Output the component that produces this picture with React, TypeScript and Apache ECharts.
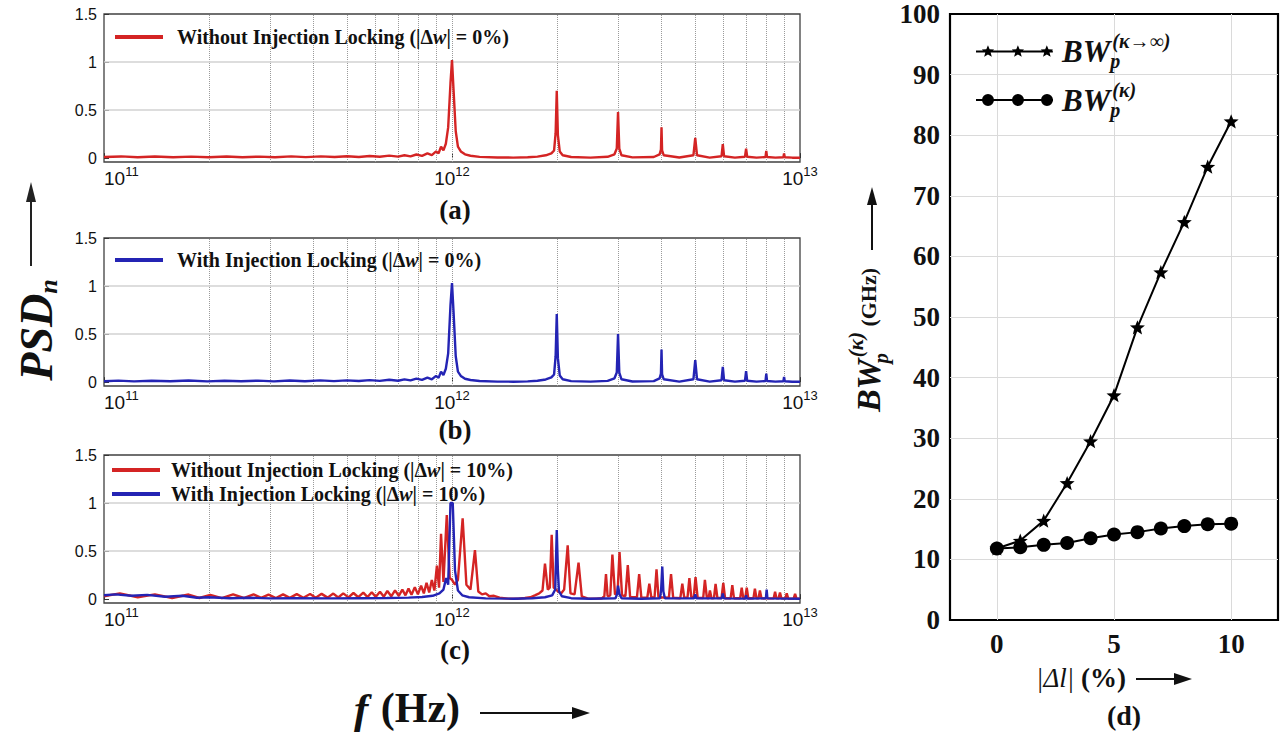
import React, { useEffect, useRef } from 'react';
import * as echarts from 'echarts';

// ---------- data ----------
// frequencies in THz (1 THz = 10^12 Hz), PSD normalised
const freqLabelExpOffset = 12; // axis in THz -> label exponent in Hz
const minorGridTHz = [0.2, 0.3, 0.4, 0.5, 0.6, 0.7, 0.8, 0.9, 1, 2, 3, 4, 5, 6, 7, 8, 9];
const psdTicks = [0, 0.5, 1, 1.5];
const psdGridY = [0.5, 1];

const psdNoLock0: [number, number][] = [
  [0.1, 0.012], [0.112, 0.018], [0.125, 0.009], [0.14, 0.017], [0.158, 0.01], [0.178, 0.016], [0.2, 0.009],
  [0.225, 0.017], [0.25, 0.01], [0.28, 0.016], [0.31, 0.009], [0.345, 0.018], [0.38, 0.011], [0.42, 0.019],
  [0.46, 0.012], [0.5, 0.02], [0.54, 0.012], [0.58, 0.022], [0.62, 0.014], [0.66, 0.026], [0.7, 0.016],
  [0.73, 0.03], [0.76, 0.019], [0.79, 0.038], [0.82, 0.024], [0.85, 0.05], [0.875, 0.032], [0.9, 0.07],
  [0.915, 0.05], [0.93, 0.12], [0.945, 0.08], [0.96, 0.15], [0.975, 0.32], [0.99, 0.78], [1.0, 1.02],
  [1.01, 0.72], [1.025, 0.28], [1.04, 0.12], [1.06, 0.07], [1.09, 0.04], [1.13, 0.025], [1.2, 0.013],
  [1.35, 0.007], [1.5, 0.006], [1.65, 0.009], [1.76, 0.016], [1.86, 0.03], [1.93, 0.05], [1.965, 0.08],
  [1.985, 0.26], [2.0, 0.7], [2.015, 0.24], [2.04, 0.07], [2.08, 0.03], [2.2, 0.012], [2.5, 0.006],
  [2.8, 0.014], [2.93, 0.04], [2.975, 0.1], [3.0, 0.48], [3.025, 0.1], [3.07, 0.03], [3.3, 0.008],
  [3.8, 0.012], [3.95, 0.04], [3.985, 0.09], [4.0, 0.32], [4.015, 0.08], [4.06, 0.03], [4.5, 0.007],
  [4.94, 0.03], [5.0, 0.21], [5.06, 0.03], [5.5, 0.006], [5.95, 0.02], [6.0, 0.145], [6.05, 0.02],
  [6.5, 0.006], [6.95, 0.015], [7.0, 0.1], [7.05, 0.015], [7.5, 0.005], [7.96, 0.012], [8.0, 0.075],
  [8.04, 0.012], [8.5, 0.005], [8.96, 0.01], [9.0, 0.05], [9.04, 0.01], [9.5, 0.005], [10, 0.005],
];

const psdLock0: [number, number][] = [
  [0.1, 0.01], [0.11, 0.016], [0.122, 0.008], [0.137, 0.015], [0.155, 0.009], [0.175, 0.017], [0.198, 0.008],
  [0.222, 0.015], [0.248, 0.009], [0.277, 0.016], [0.308, 0.008], [0.342, 0.017], [0.378, 0.01], [0.418, 0.018],
  [0.458, 0.011], [0.498, 0.019], [0.54, 0.012], [0.58, 0.021], [0.62, 0.013], [0.66, 0.025], [0.7, 0.015],
  [0.73, 0.029], [0.76, 0.018], [0.79, 0.036], [0.82, 0.023], [0.85, 0.048], [0.875, 0.03], [0.9, 0.065],
  [0.915, 0.045], [0.93, 0.11], [0.945, 0.075], [0.96, 0.14], [0.975, 0.3], [0.99, 0.8], [1.0, 1.03],
  [1.01, 0.74], [1.025, 0.27], [1.04, 0.11], [1.06, 0.065], [1.09, 0.035], [1.13, 0.022], [1.2, 0.012],
  [1.35, 0.006], [1.5, 0.005], [1.65, 0.008], [1.76, 0.015], [1.86, 0.028], [1.93, 0.05], [1.965, 0.08],
  [1.985, 0.27], [2.0, 0.71], [2.015, 0.25], [2.04, 0.07], [2.08, 0.03], [2.2, 0.011], [2.5, 0.005],
  [2.8, 0.013], [2.93, 0.04], [2.975, 0.1], [3.0, 0.5], [3.025, 0.1], [3.07, 0.03], [3.3, 0.007],
  [3.8, 0.011], [3.95, 0.04], [3.985, 0.09], [4.0, 0.34], [4.015, 0.08], [4.06, 0.03], [4.5, 0.006],
  [4.94, 0.03], [5.0, 0.23], [5.06, 0.03], [5.5, 0.005], [5.95, 0.02], [6.0, 0.16], [6.05, 0.02],
  [6.5, 0.005], [6.95, 0.015], [7.0, 0.115], [7.05, 0.015], [7.5, 0.005], [7.96, 0.012], [8.0, 0.09],
  [8.04, 0.012], [8.5, 0.005], [8.96, 0.01], [9.0, 0.055], [9.04, 0.01], [9.5, 0.004], [10, 0.004],
];

const psdNoLock10: [number, number][] = [
  [0.1, 0.03], [0.111, 0.06], [0.125, 0.02], [0.14, 0.05], [0.157, 0.012], [0.175, 0.048], [0.188, 0.012],
  [0.202, 0.045], [0.218, 0.01], [0.235, 0.05], [0.252, 0.012], [0.269, 0.05], [0.283, 0.013], [0.297, 0.048],
  [0.312, 0.012], [0.327, 0.05], [0.342, 0.013], [0.358, 0.052], [0.374, 0.014], [0.391, 0.053], [0.406, 0.015],
  [0.422, 0.055], [0.439, 0.016], [0.456, 0.058], [0.471, 0.017], [0.487, 0.06], [0.504, 0.018], [0.521, 0.064],
  [0.538, 0.02], [0.556, 0.068], [0.572, 0.022], [0.588, 0.072], [0.604, 0.024], [0.621, 0.078], [0.637, 0.026],
  [0.652, 0.085], [0.669, 0.03], [0.686, 0.092], [0.703, 0.035], [0.72, 0.1], [0.735, 0.04], [0.75, 0.11],
  [0.765, 0.045], [0.782, 0.125], [0.798, 0.05], [0.815, 0.14], [0.83, 0.06], [0.845, 0.17], [0.86, 0.07],
  [0.875, 0.2], [0.89, 0.09], [0.905, 0.35], [0.918, 0.12], [0.93, 0.68], [0.945, 0.18], [0.966, 0.875],
  [0.985, 0.22], [1.0, 0.2], [1.02, 0.15], [1.04, 0.2], [1.073, 0.84], [1.1, 0.15], [1.13, 0.1],
  [1.164, 0.51], [1.19, 0.08], [1.22, 0.05], [1.25, 0.06], [1.28, 0.03], [1.32, 0.035], [1.37, 0.015],
  [1.45, 0.006], [1.55, 0.005], [1.62, 0.012], [1.68, 0.02], [1.73, 0.04], [1.78, 0.06], [1.82, 0.09],
  [1.85, 0.37], [1.885, 0.1], [1.91, 0.12], [1.934, 0.67], [1.96, 0.12], [1.99, 0.1], [2.02, 0.08],
  [2.06, 0.06], [2.1, 0.1], [2.15, 0.56], [2.19, 0.06], [2.25, 0.05], [2.31, 0.38], [2.36, 0.03],
  [2.45, 0.008], [2.6, 0.005], [2.7, 0.01], [2.74, 0.03], [2.77, 0.26], [2.8, 0.03], [2.85, 0.04],
  [2.89, 0.465], [2.94, 0.05], [2.99, 0.06], [3.03, 0.49], [3.08, 0.04], [3.15, 0.03], [3.2, 0.354],
  [3.25, 0.02], [3.4, 0.02], [3.45, 0.26], [3.5, 0.015], [3.64, 0.015], [3.69, 0.16], [3.74, 0.015],
  [3.82, 0.02], [3.87, 0.31], [3.92, 0.02], [4.2, 0.015], [4.26, 0.26], [4.32, 0.015], [4.53, 0.01],
  [4.59, 0.16], [4.65, 0.015], [4.75, 0.015], [4.81, 0.22], [4.87, 0.02], [4.95, 0.02], [5.01, 0.23],
  [5.08, 0.015], [5.27, 0.012], [5.33, 0.2], [5.4, 0.012], [5.46, 0.01], [5.51, 0.09], [5.57, 0.01],
  [5.66, 0.012], [5.72, 0.16], [5.79, 0.012], [5.95, 0.012], [6.02, 0.17], [6.09, 0.01], [6.32, 0.01],
  [6.39, 0.145], [6.46, 0.01], [6.73, 0.01], [6.8, 0.12], [6.87, 0.01], [6.96, 0.01], [7.03, 0.12],
  [7.1, 0.01], [7.35, 0.01], [7.42, 0.11], [7.5, 0.008], [7.6, 0.008], [7.67, 0.09], [7.75, 0.008],
  [8.4, 0.008], [8.48, 0.076], [8.56, 0.008], [8.68, 0.008], [8.76, 0.07], [8.84, 0.008], [9.08, 0.007],
  [9.16, 0.06], [9.25, 0.007], [9.59, 0.006], [9.68, 0.055], [9.77, 0.006], [10, 0.006],
];

const psdLock10: [number, number][] = [
  [0.1, 0.04], [0.108, 0.05], [0.12, 0.035], [0.133, 0.045], [0.15, 0.025], [0.168, 0.035], [0.185, 0.015],
  [0.2, 0.02], [0.23, 0.01], [0.26, 0.015], [0.3, 0.008], [0.35, 0.01], [0.45, 0.008], [0.55, 0.01],
  [0.65, 0.012], [0.75, 0.016], [0.82, 0.022], [0.88, 0.035], [0.92, 0.06], [0.945, 0.1], [0.962, 0.22],
  [0.975, 0.15], [0.99, 1.0], [1.005, 1.0], [1.02, 0.3], [1.04, 0.09], [1.07, 0.04], [1.12, 0.02],
  [1.25, 0.008], [1.5, 0.005], [1.7, 0.01], [1.85, 0.02], [1.94, 0.04], [1.98, 0.1], [2.0, 0.72],
  [2.015, 0.3], [2.03, 0.08], [2.07, 0.03], [2.2, 0.01], [2.5, 0.005], [2.95, 0.01], [2.98, 0.05],
  [3.0, 0.14], [3.03, 0.05], [3.07, 0.01], [3.5, 0.005], [3.96, 0.01], [3.99, 0.1], [4.02, 0.34],
  [4.05, 0.08], [4.09, 0.01], [4.96, 0.008], [5.0, 0.05], [5.04, 0.008], [5.96, 0.008], [6.0, 0.06],
  [6.04, 0.008], [6.97, 0.006], [7.0, 0.04], [7.03, 0.006], [7.98, 0.008], [8.02, 0.1], [8.06, 0.008],
  [10, 0.005],
];

// panel (d)
const dlPercent = [0, 1, 2, 3, 4, 5, 6, 7, 8, 9, 10];
const bwInf = [11.8, 13.1, 16.4, 22.6, 29.5, 37.1, 48.3, 57.4, 65.7, 74.8, 82.3];
const bwK = [11.8, 12.0, 12.4, 12.7, 13.5, 14.1, 14.5, 15.1, 15.5, 15.8, 15.9];
const dTicksX = [0, 5, 10];
const dGridY = [10, 20, 30, 40, 50, 60, 70, 80, 90];

// ---------- helpers ----------
const SERIF = '"Liberation Serif", "Times New Roman", serif';
const SANS = '"Liberation Sans", Arial, sans-serif';
const RED = '#d42424';
const BLUE = '#2424b4';

function starPath(cx: number, cy: number, R: number, r: number) {
  const pts: string[] = [];
  for (let i = 0; i < 10; i++) {
    const a = -Math.PI / 2 + (i * Math.PI) / 5;
    const rad = i % 2 === 0 ? R : r;
    pts.push((cx + rad * Math.cos(a)).toFixed(2) + ',' + (cy + rad * Math.sin(a)).toFixed(2));
  }
  return 'M' + pts.join(' L') + ' Z';
}
function circlePath(cx: number, cy: number, r: number) {
  return `M${cx - r},${cy} A${r},${r} 0 1,1 ${cx + r},${cy} A${r},${r} 0 1,1 ${cx - r},${cy} Z`;
}
const LEG_X = [12, 42, 71];
const starLegendIcon = 'path://M0,7 L77,7 L77,9 L0,9 Z ' + LEG_X.map((x) => starPath(x, 8, 6.5, 2.8)).join(' ');
const circleLegendIcon = 'path://M0,7 L77,7 L77,9 L0,9 Z ' + LEG_X.map((x) => circlePath(x, 8, 6)).join(' ');

const NAME_A = 'Without Injection Locking (|Δw| = 0%)';
const NAME_B = 'With Injection Locking (|Δw| = 0%)';
const NAME_CR = 'Without Injection Locking (|Δw| = 10%)';
const NAME_CB = 'With Injection Locking (|Δw| = 10%)';
const NAME_DI = 'BWp(κ→∞)';
const NAME_DK = 'BWp(κ)';

const legendRichPanel = {
  b: { fontFamily: SERIF, fontWeight: 'bold', fontSize: 20, color: '#111', lineHeight: 22 },
  i: { fontFamily: SERIF, fontWeight: 'bold', fontStyle: 'italic', fontSize: 20, color: '#111', lineHeight: 22 },
};
function panelLegendText(name: string) {
  const idx = name.indexOf('Δw') + 1;
  return `{b|${name.slice(0, idx)}}{i|w}{b|${name.slice(idx + 1)}}`;
}

const gridRects = [
  { left: 104, top: 14, width: 696, height: 148 },
  { left: 104, top: 238, width: 696, height: 148 },
  { left: 104, top: 455, width: 696, height: 148 },
];

function logX(gi: number) {
  return {
    type: 'log', logBase: 10, gridIndex: gi, min: 0.1, max: 10,
    axisLine: { show: false }, splitLine: { show: false },
    axisTick: { show: true, inside: true, length: 5, lineStyle: { color: '#333', width: 1 } },
    axisLabel: {
      margin: 3, alignMinLabel: 'left', color: '#111',
      formatter: (v: number) => `{b|10}{s|${Math.round(Math.log10(v)) + freqLabelExpOffset}}`,
      rich: {
        b: { fontFamily: SANS, fontSize: 19, lineHeight: 23, verticalAlign: 'bottom', color: '#111' },
        s: { fontFamily: SANS, fontSize: 13, lineHeight: 13, verticalAlign: 'top', color: '#111' },
      },
    },
  };
}
function psdY(gi: number) {
  return {
    type: 'value', gridIndex: gi, min: -0.04, max: 1.5,
    axisLine: { show: false }, splitLine: { show: false },
    axisTick: { show: true, inside: true, length: 5, customValues: psdTicks, lineStyle: { color: '#333' } },
    axisLabel: {
      customValues: psdTicks, margin: 7, fontFamily: SANS, fontSize: 16, color: '#111',
      formatter: (v: number) => String(v),
    },
  };
}
function psdGridLines() {
  return {
    silent: true, symbol: ['none', 'none'], label: { show: false }, animation: false, z: 1,
    data: [
      ...minorGridTHz.map((v) => ({ xAxis: v, lineStyle: { type: 'dotted', color: '#9a9a9a', width: 1 } })),
      ...psdGridY.map((v) => ({ yAxis: v, lineStyle: { type: 'solid', color: '#d2d2d2', width: 1.5 } })),
    ],
  };
}
function psdSeries(name: string, gi: number, data: [number, number][], color: string, withGrid: boolean) {
  const s: any = {
    name, type: 'line', xAxisIndex: gi, yAxisIndex: gi, data, showSymbol: false, symbol: 'none',
    color, lineStyle: { color, width: 2.4 }, z: 10, silent: true,
  };
  if (withGrid) s.markLine = psdGridLines();
  return s;
}

export default function App() {
  const ref = useRef<HTMLDivElement>(null);
  useEffect(() => {
    if (!ref.current) return;
    const chart = echarts.init(ref.current, null, { renderer: 'svg' });
    const starSymbol = 'path://' + starPath(7, 7, 7, 3);
    const option: any = {
      animation: false,
      backgroundColor: '#fff',
      grid: [
        ...gridRects.map((g) => ({ ...g, show: true, borderColor: '#404040', borderWidth: 1.3, backgroundColor: 'transparent' })),
        { left: 950, top: 14, width: 328, height: 606, show: true, borderColor: '#000', borderWidth: 2.2, backgroundColor: 'transparent' },
      ],
      xAxis: [
        logX(0), logX(1), logX(2),
        {
          type: 'value', gridIndex: 3, min: -2, max: 12,
          axisLine: { show: false }, axisTick: { show: false }, splitLine: { show: false },
          axisLabel: { customValues: dTicksX, fontFamily: SERIF, fontWeight: 'bold', fontSize: 27, color: '#111', margin: 10 },
        },
      ],
      yAxis: [
        psdY(0), psdY(1), psdY(2),
        {
          type: 'value', gridIndex: 3, min: 0, max: 100, interval: 10,
          axisLine: { show: false }, axisTick: { show: false }, splitLine: { show: false },
          axisLabel: { fontFamily: SERIF, fontWeight: 'bold', fontSize: 27, color: '#111', margin: 10 },
        },
      ],
      legend: [
        {
          data: [NAME_A], left: 110, top: 22, orient: 'vertical', icon: 'rect', itemWidth: 48, itemHeight: 4,
          selectedMode: false, itemStyle: { borderWidth: 0 }, formatter: panelLegendText,
          textStyle: { padding: [0, 0, 0, 9], rich: legendRichPanel },
        },
        {
          data: [NAME_B], left: 110, top: 245, orient: 'vertical', icon: 'rect', itemWidth: 48, itemHeight: 4,
          selectedMode: false, itemStyle: { borderWidth: 0 }, formatter: panelLegendText,
          textStyle: { padding: [0, 0, 0, 9], rich: legendRichPanel },
        },
        {
          data: [NAME_CR, NAME_CB], left: 107, top: 455, orient: 'vertical', icon: 'rect', itemWidth: 48, itemHeight: 4,
          itemGap: 4, selectedMode: false, itemStyle: { borderWidth: 0 }, formatter: panelLegendText,
          textStyle: { padding: [0, 0, 0, 6], rich: legendRichPanel },
        },
        {
          data: [{ name: NAME_DI, icon: starLegendIcon }, { name: NAME_DK, icon: circleLegendIcon }],
          left: 971, top: 26, orient: 'vertical', itemWidth: 77, itemHeight: 12, itemGap: 9,
          selectedMode: false, itemStyle: { borderWidth: 0 },
          formatter: (name: string) => (name === NAME_DI ? '{bw|BW}{p|p}{s|(κ→∞)}' : '{bw|BW}{p|p}{s|(κ)}'),
          textStyle: {
            padding: [0, 0, 0, 4],
            rich: {
              bw: { fontFamily: SERIF, fontStyle: 'italic', fontWeight: 'bold', fontSize: 31, lineHeight: 40, color: '#111' },
              p: { fontFamily: SERIF, fontStyle: 'italic', fontWeight: 'bold', fontSize: 20, lineHeight: 18, verticalAlign: 'bottom', width: 2, color: '#111' },
              s: { fontFamily: SERIF, fontStyle: 'italic', fontWeight: 'bold', fontSize: 20, lineHeight: 18, verticalAlign: 'top', color: '#111' },
            },
          },
        },
      ],
      series: [
        psdSeries(NAME_A, 0, psdNoLock0, RED, true),
        psdSeries(NAME_B, 1, psdLock0, BLUE, true),
        psdSeries(NAME_CR, 2, psdNoLock10, RED, true),
        psdSeries(NAME_CB, 2, psdLock10, BLUE, false),
        {
          name: NAME_DI, type: 'line', xAxisIndex: 3, yAxisIndex: 3,
          data: dlPercent.map((x, i) => [x, bwInf[i]]),
          symbol: starSymbol, symbolSize: 15, symbolKeepAspect: true,
          color: '#000', lineStyle: { color: '#000', width: 2 }, itemStyle: { color: '#000' }, z: 10, silent: true,
          markLine: {
            silent: true, symbol: ['none', 'none'], label: { show: false }, animation: false, z: 1,
            data: [
              ...dTicksX.map((v) => ({ xAxis: v, lineStyle: { type: 'solid', color: '#dadada', width: 1 } })),
              ...dGridY.map((v) => ({ yAxis: v, lineStyle: { type: 'solid', color: '#dadada', width: 1 } })),
            ],
          },
        },
        {
          name: NAME_DK, type: 'line', xAxisIndex: 3, yAxisIndex: 3,
          data: dlPercent.map((x, i) => [x, bwK[i]]),
          symbol: 'circle', symbolSize: 14,
          color: '#000', lineStyle: { color: '#000', width: 2 }, itemStyle: { color: '#000' }, z: 10, silent: true,
        },
      ],
      graphic: [
        { type: 'text', x: 455, y: 210, style: { text: '(a)', fontFamily: SERIF, fontWeight: 'bold', fontSize: 27, fill: '#111', align: 'center', verticalAlign: 'middle' } },
        { type: 'text', x: 455, y: 430, style: { text: '(b)', fontFamily: SERIF, fontWeight: 'bold', fontSize: 27, fill: '#111', align: 'center', verticalAlign: 'middle' } },
        { type: 'text', x: 455, y: 650, style: { text: '(c)', fontFamily: SERIF, fontWeight: 'bold', fontSize: 27, fill: '#111', align: 'center', verticalAlign: 'middle' } },
        {
          type: 'text', x: 36, y: 330, rotation: Math.PI / 2,
          style: {
            text: '{P|PSD}{n|n}', align: 'center', verticalAlign: 'middle',
            rich: {
              P: { fontFamily: SERIF, fontStyle: 'italic', fontWeight: 'bold', fontSize: 46, lineHeight: 50, fill: '#111' },
              n: { fontFamily: SERIF, fontStyle: 'italic', fontWeight: 'bold', fontSize: 26, lineHeight: 26, verticalAlign: 'bottom', fill: '#111' },
            },
          },
        },
        { type: 'line', shape: { x1: 31, y1: 266, x2: 31, y2: 198 }, style: { stroke: '#222', lineWidth: 2 } },
        { type: 'polygon', shape: { points: [[31, 182], [26, 202], [36, 202]] }, style: { fill: '#222' } },
        {
          type: 'text', x: 346, y: 708,
          style: {
            text: '{i|f}{b| (Hz)}', align: 'left', verticalAlign: 'middle',
            rich: {
              i: { fontFamily: SERIF, fontStyle: 'italic', fontWeight: 'bold', fontSize: 43, lineHeight: 40, fill: '#111', padding: [0, 2, 0, 8] },
              b: { fontFamily: SERIF, fontWeight: 'bold', fontSize: 42, lineHeight: 40, fill: '#111' },
            },
          },
        },
        { type: 'line', shape: { x1: 480, y1: 713, x2: 575, y2: 713 }, style: { stroke: '#111', lineWidth: 2 } },
        { type: 'polygon', shape: { points: [[590, 713], [572, 707], [572, 719]] }, style: { fill: '#111' } },
        {
          type: 'text', x: 868, y: 340, rotation: Math.PI / 2,
          style: {
            text: '{bw|BW}{p|p}{s|(κ)}{g| (GHz)}', align: 'center', verticalAlign: 'middle',
            rich: {
              bw: { fontFamily: SERIF, fontStyle: 'italic', fontWeight: 'bold', fontSize: 34, lineHeight: 46, fill: '#111' },
              p: { fontFamily: SERIF, fontStyle: 'italic', fontWeight: 'bold', fontSize: 21, lineHeight: 20, verticalAlign: 'bottom', width: 2, fill: '#111' },
              s: { fontFamily: SERIF, fontStyle: 'italic', fontWeight: 'bold', fontSize: 21, lineHeight: 20, verticalAlign: 'top', fill: '#111' },
              g: { fontFamily: SERIF, fontWeight: 'bold', fontSize: 22, fill: '#111' },
            },
          },
        },
        { type: 'line', shape: { x1: 872, y1: 250, x2: 872, y2: 203 }, style: { stroke: '#111', lineWidth: 2 } },
        { type: 'polygon', shape: { points: [[872, 187], [867, 205], [877, 205]] }, style: { fill: '#111' } },
        {
          type: 'text', x: 1036, y: 678,
          style: {
            text: '{i||Δl|}{b| (%)}', align: 'left', verticalAlign: 'middle',
            rich: {
              i: { fontFamily: SERIF, fontStyle: 'italic', fontSize: 27, fill: '#111' },
              b: { fontFamily: SERIF, fontWeight: 'bold', fontSize: 27, fill: '#111' },
            },
          },
        },
        { type: 'line', shape: { x1: 1136, y1: 679, x2: 1176, y2: 679 }, style: { stroke: '#111', lineWidth: 2 } },
        { type: 'polygon', shape: { points: [[1192, 679], [1174, 673], [1174, 685]] }, style: { fill: '#111' } },
        { type: 'text', x: 1124, y: 715, style: { text: '(d)', fontFamily: SERIF, fontWeight: 'bold', fontSize: 28, fill: '#111', align: 'center', verticalAlign: 'middle' } },
      ],
    };
    chart.setOption(option);
    return () => chart.dispose();
  }, []);
  return <div ref={ref} style={{ position: 'fixed', left: 0, top: 0, width: 1284, height: 733, background: '#fff' }} />;
}
